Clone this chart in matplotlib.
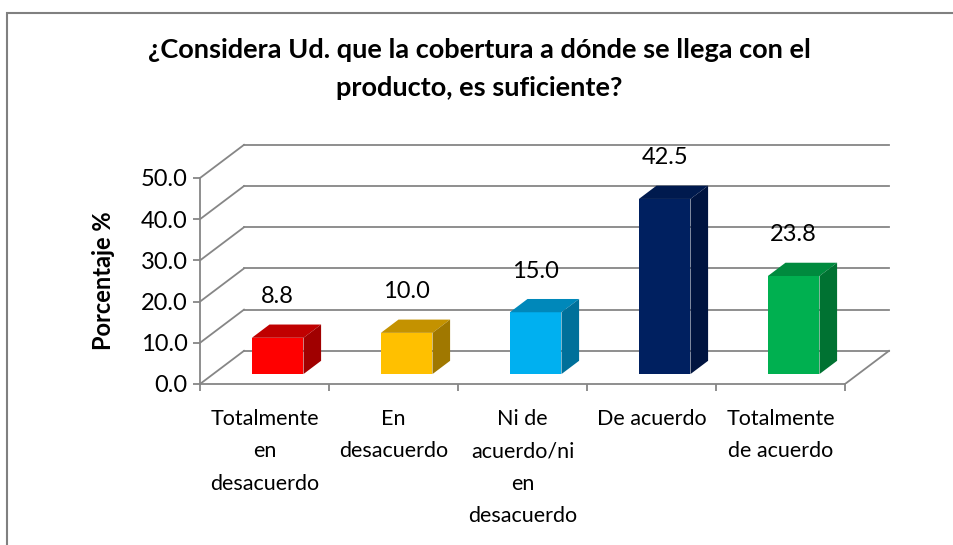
import matplotlib.pyplot as plt
from matplotlib.patches import Polygon, Rectangle

plt.rcParams['font.family'] = ['Lato', 'DejaVu Sans']

categories = ['Totalmente\nen\ndesacuerdo', 'En\ndesacuerdo', 'Ni de\nacuerdo/ni\nen\ndesacuerdo',
              'De acuerdo', 'Totalmente\nde acuerdo']
values = [8.8, 10.0, 15.0, 42.5, 23.8]
yticks = [0, 10, 20, 30, 40, 50]

front_colors = ['#FF0000', '#FFC000', '#00B0F0', '#002060', '#00B050']
top_colors = ['#C00000', '#C49200', '#0088BA', '#001A4E', '#008A3E']
side_colors = ['#A00000', '#A07800', '#00709A', '#001440', '#007232']

# fake 3d: depth offset of the back wall, in data units
ox, oy = 0.341, 8.05
d0, dd = 0.3, 0.4   # bar front depth and bar depth (fraction of floor)
w = 0.40
grid_c = '#868686'

fig = plt.figure(figsize=(9.54, 5.45), dpi=100)
ax = fig.add_axes([200 / 954, 161 / 545, 5.5 * 129 / 954, 60 * 4.12 / 545])
ax.set_xlim(-0.5, 5.0)
ax.set_ylim(0, 60)

# back wall gridlines + left wall diagonals
for v in yticks:
    ax.plot([-0.5 + ox, 4.5 + ox], [v + oy, v + oy], color=grid_c, lw=1.3, zorder=1)
    ax.plot([-0.5, -0.5 + ox], [v, v + oy], color=grid_c, lw=1.3, zorder=1, clip_on=False)
# floor right edge
ax.plot([4.5, 4.5 + ox], [0, oy], color=grid_c, lw=1.3, zorder=1)

x = list(range(len(values)))
xf = [i + d0 * ox for i in x]
bars = ax.bar(xf, values, width=w, bottom=d0 * oy, color=front_colors, zorder=3)
for b, v, tc, sc in zip(bars, values, top_colors, side_colors):
    xl = b.get_x()
    xr = xl + w
    y0 = d0 * oy
    y1 = y0 + v
    ax.add_patch(Polygon([(xl, y1), (xr, y1), (xr + dd * ox, y1 + dd * oy), (xl + dd * ox, y1 + dd * oy)],
                         closed=True, facecolor=tc, edgecolor='none', zorder=3))
    ax.add_patch(Polygon([(xr, y0), (xr, y1), (xr + dd * ox, y1 + dd * oy), (xr + dd * ox, y0 + dd * oy)],
                         closed=True, facecolor=sc, edgecolor='none', zorder=3))
    ax.text(xl + w / 2, y1 + 10, f'{v:.1f}', ha='center', va='center', fontsize=17, zorder=4)

for s in ['top', 'right']:
    ax.spines[s].set_visible(False)
ax.spines['left'].set_bounds(0, 50)
ax.spines['bottom'].set_bounds(-0.5, 4.5)
for s in ['left', 'bottom']:
    ax.spines[s].set_color(grid_c)
    ax.spines[s].set_linewidth(1.3)

ax.set_yticks(yticks)
ax.set_yticklabels([f'{t:.1f}' for t in yticks], fontsize=17)
ax.tick_params(axis='y', length=5, color=grid_c, width=1.3, pad=4)
ax.set_xticks([i - 0.5 for i in range(6)], minor=True)
ax.tick_params(axis='x', which='minor', length=5, color=grid_c, width=1.3, direction='out')
ax.set_xticks(x)
ax.set_xticklabels(categories, fontsize=15.5, linespacing=1.78, va='top')
ax.tick_params(axis='x', which='major', length=0, pad=18)

ax.set_ylabel('Porcentaje %', fontsize=17, fontweight='bold')
ax.yaxis.set_label_coords(-0.12, 0.417, transform=ax.transAxes)

fig.text(479 / 954, 1 - 69 / 545, '¿Considera Ud. que la cobertura a dónde se llega con el\nproducto, es suficiente?',
         ha='center', va='center', fontsize=19.5, fontweight='bold', linespacing=1.65)

fig.patches.append(Rectangle((7 / 954, -0.5), 2, 1.5 - 13 / 545, transform=fig.transFigure,
                             facecolor='none', edgecolor='#808080', lw=1.5))

fig.savefig('out.png', dpi=100)
